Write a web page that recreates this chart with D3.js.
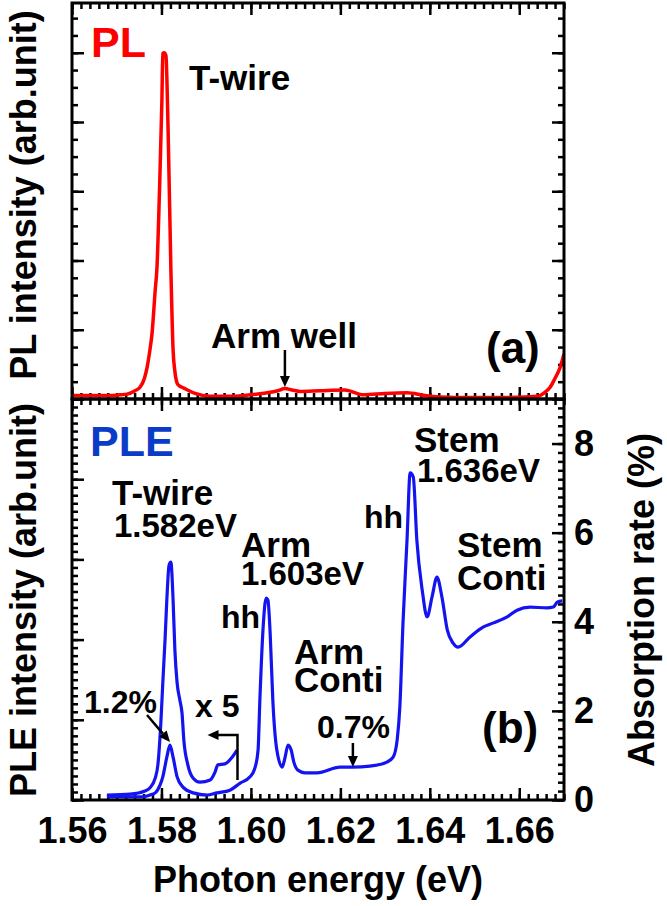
<!DOCTYPE html>
<html>
<head>
<meta charset="utf-8">
<script src="https://cdn.jsdelivr.net/npm/d3@7"></script>
<style>
  html, body { margin: 0; padding: 0; background: #fff; }
  svg { display: block; }
  text { font-family: "Liberation Sans", Arial, sans-serif; font-weight: bold; }
</style>
</head>
<body>
<script>
// ---------------- data ----------------
// (a) PL spectrum (arb. units)
const plEnergy = [1.5600,1.5640,1.5680,1.5707,1.5723,1.5741,1.5752,1.5762,1.5768,1.5774,1.5779,1.5786,1.5790,1.5795,1.5801,1.5803,1.5806,1.5810,1.5815,1.5821,1.5826,1.5830,1.5835,1.5840,1.5846,1.5855,1.5875,1.5909,1.5960,1.5998,1.6036,1.6060,1.6076,1.6092,1.6110,1.6155,1.6210,1.6251,1.6300,1.6349,1.6389,1.6423,1.6490,1.6550,1.6613,1.6640,1.6658,1.6669,1.6680,1.6691,1.6700];
const plIntensity = [0.05,0.05,0.05,0.06,0.07,0.12,0.17,0.30,0.46,0.70,0.95,1.57,1.90,2.87,4.31,4.99,5.00,4.96,3.84,1.90,0.71,0.40,0.23,0.19,0.17,0.14,0.08,0.04,0.04,0.06,0.09,0.12,0.15,0.13,0.11,0.12,0.13,0.06,0.08,0.09,0.05,0.03,0.02,0.02,0.03,0.04,0.10,0.17,0.30,0.45,0.65];

// (b) PLE spectrum, absorption rate (%)
const pleEnergy = [1.5678,1.5720,1.5759,1.5774,1.5786,1.5797,1.5803,1.5812,1.5819,1.5826,1.5835,1.5848,1.5871,1.5902,1.5924,1.5953,1.5976,1.5998,1.6009,1.6016,1.6020,1.6027,1.6034,1.6038,1.6043,1.6049,1.6058,1.6070,1.6076,1.6083,1.6090,1.6096,1.6105,1.6121,1.6148,1.6199,1.6228,1.6266,1.6304,1.6318,1.6327,1.6333,1.6340,1.6349,1.6356,1.6363,1.6371,1.6383,1.6394,1.6405,1.6416,1.6427,1.6439,1.6452,1.6463,1.6490,1.6519,1.6541,1.6573,1.6595,1.6624,1.6662,1.6676,1.6685,1.6696];
const pleAbsorption = [0.07,0.07,0.07,0.11,0.16,0.34,0.52,0.96,1.23,0.96,0.52,0.29,0.16,0.11,0.16,0.22,0.38,0.52,0.72,1.12,2.24,3.82,4.53,4.49,3.75,2.24,1.12,0.74,0.94,1.23,1.12,0.85,0.67,0.61,0.61,0.74,0.74,0.76,0.85,0.96,1.35,2.09,3.97,5.83,7.34,7.25,5.83,4.71,4.11,4.56,5.00,4.56,3.82,3.52,3.43,3.66,3.88,3.97,4.11,4.26,4.33,4.31,4.33,4.44,4.47];

// (b) PLE x5 magnified part (T-wire region)
const x5Energy = [1.5678,1.5730,1.5763,1.5774,1.5786,1.5792,1.5799,1.5803,1.5808,1.5812,1.5817,1.5821,1.5826,1.5830,1.5835,1.5841,1.5846,1.5850,1.5859,1.5871,1.5886,1.5909,1.5920,1.5926,1.5942,1.5958,1.5969];
const x5Absorption = [0.11,0.13,0.20,0.27,0.49,0.79,1.80,2.63,3.59,4.49,5.27,5.34,4.49,3.37,2.63,2.25,1.95,1.35,0.79,0.49,0.40,0.45,0.63,0.79,0.81,0.96,1.12];

// tick values / labels
const energyTicks = [1.56, 1.58, 1.60, 1.62, 1.64, 1.66];
const absorptionTicks = [0, 2, 4, 6, 8];

// ---------------- layout ----------------
const W = 667, H = 906;
const L = 72, R = 564, T = 3, M = 399, B = 800;
const RED = "#ff0000", BLUE = "#1414f0", BLUE_TXT = "#0a3cc8";

const svg = d3.select("body").append("svg").attr("width", W).attr("height", H);

const x = d3.scaleLinear().domain([1.56, 1.67]).range([L, R]);
const yPL = d3.scaleLinear().domain([0, (M - T) / 69.25]).range([M, T]);
const yPLE = d3.scaleLinear().domain([0, 5]).range([B, M]);
const yAbs = d3.scaleLinear().domain([0, 9]).range([B, M]);

const r3 = v => Math.round(v * 1000) / 1000;
const minorE = d3.range(0, 56).map(i => r3(1.56 + i * 0.002)).filter(v => v <= 1.67);

function tickGroup(axis, transform, len) {
  const g = svg.append("g").attr("transform", transform)
    .call(axis.tickSize(len).tickSizeOuter(0).tickFormat(""));
  g.select(".domain").remove();
  g.selectAll("text").remove();
  g.selectAll("line").attr("stroke", "#000").attr("stroke-width", 2.5);
}

// x ticks
const MAJ = 12, MIN = 6;
tickGroup(d3.axisTop(x).tickValues(minorE), `translate(0,${T})`, -MIN);
tickGroup(d3.axisTop(x).tickValues(energyTicks), `translate(0,${T})`, -MAJ);
tickGroup(d3.axisBottom(x).tickValues(minorE), `translate(0,${M})`, -MIN);
tickGroup(d3.axisBottom(x).tickValues(energyTicks), `translate(0,${M})`, -MAJ);
tickGroup(d3.axisTop(x).tickValues(minorE), `translate(0,${M})`, -MIN);
tickGroup(d3.axisTop(x).tickValues(energyTicks), `translate(0,${M})`, -MAJ);
tickGroup(d3.axisBottom(x).tickValues(minorE), `translate(0,${B})`, -MIN);
tickGroup(d3.axisBottom(x).tickValues(energyTicks), `translate(0,${B})`, -MAJ);

// top panel y ticks
const plMinor = d3.range(0, 23).map(i => i * 0.25);
const plMajor = d3.range(0, 6);
tickGroup(d3.axisLeft(yPL).tickValues(plMinor), `translate(${L},0)`, -MIN);
tickGroup(d3.axisLeft(yPL).tickValues(plMajor), `translate(${L},0)`, -MAJ);
tickGroup(d3.axisRight(yPL).tickValues(plMinor), `translate(${R},0)`, -MIN);
tickGroup(d3.axisRight(yPL).tickValues(plMajor), `translate(${R},0)`, -MAJ);

// bottom panel y ticks
const pleMinor = d3.range(0, 51).map(i => i * 0.1);
const pleMajor = d3.range(0, 6);
tickGroup(d3.axisLeft(yPLE).tickValues(pleMinor), `translate(${L},0)`, -MIN);
tickGroup(d3.axisLeft(yPLE).tickValues(pleMajor), `translate(${L},0)`, -MAJ);
const absMinor = d3.range(0, 46).map(i => r3(i * 0.2));
tickGroup(d3.axisRight(yAbs).tickValues(absMinor), `translate(${R},0)`, -MIN);
tickGroup(d3.axisRight(yAbs).tickValues(absorptionTicks), `translate(${R},0)`, -MAJ);

// tick labels
const xl = svg.append("g").attr("transform", `translate(0,${B})`)
  .call(d3.axisBottom(x).tickValues(energyTicks).tickFormat(d3.format(".2f")).tickSize(0).tickPadding(17));
xl.select(".domain").remove();
xl.selectAll("text").attr("font-size", 36).attr("fill", "#000")
  .attr("font-family", '"Liberation Sans", Arial, sans-serif').attr("font-weight", "bold");

const yl = svg.append("g").attr("transform", `translate(${R},0)`)
  .call(d3.axisRight(yAbs).tickValues(absorptionTicks).tickFormat(d3.format("d")).tickSize(0).tickPadding(10));
yl.select(".domain").remove();
yl.selectAll("text").attr("font-size", 36).attr("fill", "#000")
  .attr("font-family", '"Liberation Sans", Arial, sans-serif').attr("font-weight", "bold");

// clip paths
const defs = svg.append("defs");
defs.append("clipPath").attr("id", "clipTop").append("rect").attr("x", L).attr("y", T).attr("width", R - L).attr("height", M - T);
defs.append("clipPath").attr("id", "clipBot").append("rect").attr("x", L).attr("y", M).attr("width", R - L).attr("height", B - M);

// curves
const plData = plEnergy.map((e, i) => [e, plIntensity[i]]);
const pleData = pleEnergy.map((e, i) => [e, pleAbsorption[i]]);
const x5Data = x5Energy.map((e, i) => [e, x5Absorption[i]]);

svg.append("path").attr("clip-path", "url(#clipTop)")
  .attr("d", d3.line().x(d => x(d[0])).y(d => yPL(d[1])).curve(d3.curveMonotoneX)(plData))
  .attr("fill", "none").attr("stroke", RED).attr("stroke-width", 3.5).attr("stroke-linejoin", "round");

svg.append("path").attr("clip-path", "url(#clipBot)")
  .attr("d", d3.line().x(d => x(d[0])).y(d => yAbs(d[1])).curve(d3.curveMonotoneX)(x5Data))
  .attr("fill", "none").attr("stroke", BLUE).attr("stroke-width", 3.2).attr("stroke-linejoin", "round");

svg.append("path").attr("clip-path", "url(#clipBot)")
  .attr("d", d3.line().x(d => x(d[0])).y(d => yAbs(d[1])).curve(d3.curveMonotoneX)(pleData))
  .attr("fill", "none").attr("stroke", BLUE).attr("stroke-width", 3.2).attr("stroke-linejoin", "round");

// frames
svg.append("rect").attr("x", L).attr("y", T).attr("width", R - L).attr("height", M - T)
  .attr("fill", "none").attr("stroke", "#000").attr("stroke-width", 3);
svg.append("rect").attr("x", L).attr("y", M).attr("width", R - L).attr("height", B - M)
  .attr("fill", "none").attr("stroke", "#000").attr("stroke-width", 3);

// annotations
function txt(s, px, py, size, color) {
  svg.append("text").attr("x", px).attr("y", py).attr("font-size", size)
    .attr("fill", color || "#000").text(s);
}
// two-line label as one text element
function txt2(s1, x1, size1, s2, x2, size2, py, gap) {
  const t = svg.append("text").attr("x", x1).attr("y", py).attr("fill", "#000");
  t.append("tspan").attr("x", x1).attr("y", py).attr("font-size", size1).text(s1);
  t.append("tspan").attr("x", x2).attr("y", py + gap).attr("font-size", size2).text(s2);
}
function arrow(x1, y1, x2, y2) {
  const a = Math.atan2(y2 - y1, x2 - x1), hl = 11, hw = 5;
  const bx = x2 - hl * Math.cos(a), by = y2 - hl * Math.sin(a);
  svg.append("line").attr("x1", x1).attr("y1", y1).attr("x2", bx).attr("y2", by)
    .attr("stroke", "#000").attr("stroke-width", 2.5);
  const px = -Math.sin(a) * hw, py = Math.cos(a) * hw;
  svg.append("path").attr("d", `M${x2},${y2}L${bx + px},${by + py}L${bx - px},${by - py}Z`).attr("fill", "#000");
}

// (a)
txt("PL", 91, 57, 43, RED);
txt("T-wire", 189, 90, 35);
txt("Arm well", 211, 348, 35);
arrow(x(1.6076), 350, x(1.6076), 387);
txt("(a)", 486, 363, 44);

// (b)
txt("PLE", 90, 456, 43, BLUE_TXT);
txt2("T-wire", 112, 35, "1.582eV", 114, 33, 505, 32);
txt2("Arm", 241, 35, "1.603eV", 241, 33, 557, 28);
txt("hh", 221, 628, 32);
txt2("Arm", 294, 35, "Conti", 294, 35, 664, 28);
txt("1.2%", 84, 713, 32);
arrow(147, 715, 170, 742);
txt("x 5", 195, 717, 32);
svg.append("path").attr("d", `M${x(1.5970)},780V735H${x(1.5921)}`)
  .attr("fill", "none").attr("stroke", "#000").attr("stroke-width", 2.5);
arrow(x(1.5921), 735, x(1.5903), 735);
txt("0.7%", 317, 738, 32);
arrow(x(1.6228), 743, x(1.6228), 767);
txt2("Stem", 414, 35, "1.636eV", 417, 33, 452, 30);
txt("hh", 364, 528, 32);
txt2("Stem", 457, 35, "Conti", 457, 35, 557, 33);
txt("(b)", 482, 743, 44);

// axis titles
svg.append("text").attr("transform", "translate(36,195) rotate(-90)").attr("text-anchor", "middle")
  .attr("font-size", 36).text("PL intensity (arb.unit)");
svg.append("text").attr("transform", "translate(36,600) rotate(-90)").attr("text-anchor", "middle")
  .attr("font-size", 36).text("PLE intensity (arb.unit)");
svg.append("text").attr("transform", "translate(654,600) rotate(-90)").attr("text-anchor", "middle")
  .attr("font-size", 36).text("Absorption rate (%)");
svg.append("text").attr("x", (L + R) / 2).attr("y", 892).attr("text-anchor", "middle")
  .attr("font-size", 36).text("Photon energy (eV)");
</script>
</body>
</html>
